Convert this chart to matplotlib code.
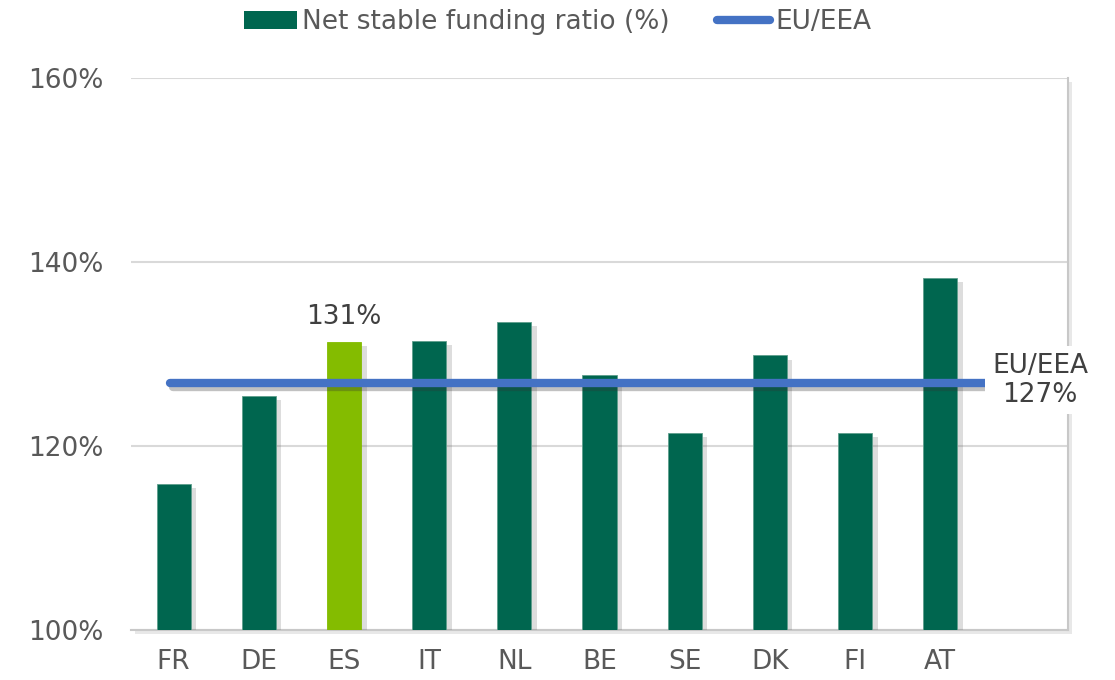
import numpy as np
import matplotlib
matplotlib.use("Agg")
import matplotlib.pyplot as plt
import matplotlib.patheffects as pe
from matplotlib.patches import Patch
from matplotlib.lines import Line2D
from matplotlib.ticker import FuncFormatter

countries = ["FR", "DE", "ES", "IT", "NL", "BE", "SE", "DK", "FI", "AT"]
nsfr = [115.8, 125.4, 131.3, 131.4, 133.4, 127.7, 121.4, 129.8, 121.4, 138.2]
eu_avg = 126.8
highlight = "ES"

DARK = "#00664F"
LIGHT = "#84BC00"
BLUE = "#4472C4"
TXT = "#595959"

plt.rcParams.update({"font.family": "DejaVu Sans", "font.size": 19})

fig = plt.figure(figsize=(11.15, 6.8), dpi=100)
ax = fig.add_axes([131 / 1115, 50.5 / 680, 937 / 1115, 552 / 680])

x = np.arange(len(countries))
colors = [LIGHT if c == highlight else DARK for c in countries]
shadow = [pe.SimplePatchShadow(offset=(4, -3), shadow_rgbFace="0.4", alpha=0.22), pe.Normal()]
bars = ax.bar(x, np.array(nsfr) - 100, bottom=100, width=0.4, color=colors,
              edgecolor="#5E9E8C", linewidth=0.6, zorder=3)
for b, c in zip(bars, countries):
    b.set_path_effects(shadow)
    if c == highlight:
        b.set_edgecolor(LIGHT)

ax.plot([-0.04, 9.6], [eu_avg, eu_avg], color=BLUE, lw=6, solid_capstyle="round", zorder=4,
        path_effects=[pe.SimpleLineShadow(offset=(2, -3), shadow_color="0.2", alpha=0.3), pe.Normal()])

i = countries.index(highlight)
ax.annotate(f"{nsfr[i]:.0f}%", (x[i], nsfr[i]), xytext=(0, 8), textcoords="offset points",
            ha="center", va="bottom", color="#404040", fontsize=19)
ax.text(10.17, eu_avg + 0.3, f"EU/EEA\n{eu_avg:.0f}%", ha="center", va="center", color="#404040",
        fontsize=19, linespacing=1.15, zorder=6, clip_on=False,
        bbox=dict(boxstyle="square,pad=0.25", fc="white", ec="none"))

ax.set_xlim(-0.5, 10.5)
ax.set_ylim(100, 160)
ax.set_yticks([100, 120, 140, 160])
ax.yaxis.set_major_formatter(FuncFormatter(lambda v, _: f"{v:.0f}%"))
ax.set_xticks(x, countries)
ax.tick_params(length=0, colors=TXT, labelsize=19)
ax.tick_params(axis="x", pad=14)
ax.tick_params(axis="y", pad=19.5)
ax.grid(axis="y", color="#D9D9D9", lw=1.5, zorder=0)
ax.set_axisbelow(True)

for s in ["top", "left"]:
    ax.spines[s].set_visible(False)
ax.spines["right"].set_color("#C8C8C8")
ax.spines["right"].set_linewidth(1.5)
ax.spines["bottom"].set_color("#C8C8C8")
ax.spines["bottom"].set_linewidth(1.5)
ax.patch.set_path_effects([pe.SimplePatchShadow(offset=(3, -3), shadow_rgbFace="0.6", alpha=0.22),
                           pe.Normal()])

handles = [Patch(facecolor=DARK, edgecolor="none"),
           Line2D([], [], color=BLUE, lw=6, solid_capstyle="round")]
fig.legend(handles, ["Net stable funding ratio (%)", "EU/EEA"], loc="center",
           bbox_to_anchor=(0.5, 1 - 22 / 680), ncol=2, frameon=False, fontsize=19,
           labelcolor=TXT, handlelength=2.0, handletextpad=0.2, columnspacing=1.8)

fig.savefig("out.png", dpi=100)
